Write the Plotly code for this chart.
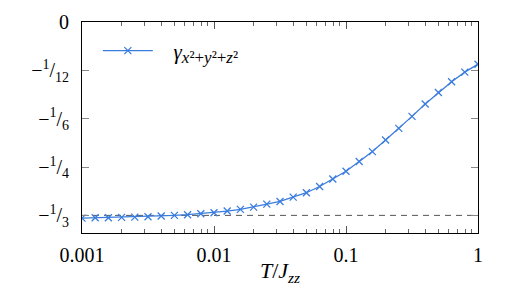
import plotly.graph_objects as go

# data
T = [10 ** (-3 + 0.1 * i) for i in range(31)]
gamma = [-0.3380, -0.3373, -0.3373, -0.3368, -0.3363, -0.3356, -0.3345, -0.3333,
         -0.3321, -0.3304, -0.3287, -0.3259, -0.3230, -0.3191, -0.3139, -0.3093,
         -0.3019, -0.2943, -0.2835, -0.2706, -0.2572, -0.2405, -0.2234, -0.2033,
         -0.1833, -0.1627, -0.1414, -0.1215, -0.1031, -0.0864, -0.0727]
series_name = ("\u00a0\u00a0\u00a0<i>γ</i><sub><span style='font-size:17px'><i>x</i>²+<i>y</i>²+<i>z</i>²</span></sub>")
x_tickvals = [0.001, 0.01, 0.1, 1]
x_ticktext = ["0.001", "0.01", "0.1", "1"]
y_tickvals = [0, -1/12, -1/6, -1/4, -1/3]
y_ticktext = ["0", "−<sup>1</sup>/<sub>12</sub>", "−<sup>1</sup>/<sub>6</sub>",
              "−<sup>1</sup>/<sub>4</sub>", "−<sup>1</sup>/<sub>3</sub>"]
ref_value = -1/3

minor_vals = [k * 10 ** e for e in (-3, -2, -1) for k in range(2, 10)]

blue = "#3b7ddd"
FAM = "Liberation Serif, Times New Roman, Times, serif"
fig = go.Figure()
fig.add_trace(go.Scatter(
    x=T, y=gamma, mode="lines+markers", name=series_name,
    line=dict(color=blue, width=1.3),
    marker=dict(symbol="x-thin", size=7, line=dict(color=blue, width=1.3)),
))
fig.add_shape(type="line", xref="paper", x0=0, x1=1, yref="y", y0=ref_value, y1=ref_value,
              line=dict(color="#555555", width=1, dash="6px,5px"), layer="below")

font = dict(family=FAM, size=20, color="black")
fig.update_layout(
    width=511, height=286,
    margin=dict(l=82, r=33, t=22, b=53),
    paper_bgcolor="white", plot_bgcolor="white",
    font=font,
    showlegend=True,
    legend=dict(x=0.04, y=0.96, xanchor="left", yanchor="top", itemwidth=50,
                bgcolor="rgba(0,0,0,0)", font=dict(family=FAM, size=21)),
    xaxis=dict(type="log", range=[-3, 0], tickvals=x_tickvals, ticktext=x_ticktext,
               ticks="inside", ticklen=7, tickcolor="#555", tickwidth=1,
               showline=True, linecolor="black", linewidth=1, mirror="ticks",
               showgrid=False, zeroline=False, ticklabelstandoff=4, automargin=False,
               tickfont=dict(family=FAM, size=20),
               minor=dict(tickvals=minor_vals, ticks="inside", ticklen=4,
                          tickcolor="#666", showgrid=False),
               title=dict(text="<i>T</i>/<i>J</i><sub><i>zz</i></sub>", standoff=0,
                          font=dict(family=FAM, size=22))),
    yaxis=dict(range=[-0.3637, 0], tickvals=y_tickvals, ticktext=y_ticktext,
               ticks="inside", ticklen=7, tickcolor="#888", tickwidth=1,
               tickfont=dict(family=FAM, size=20),
               showline=True, linecolor="black", linewidth=1, mirror="ticks",
               showgrid=False, zeroline=False, ticklabelstandoff=8, automargin=False),
)
fig.write_html("out.html")
